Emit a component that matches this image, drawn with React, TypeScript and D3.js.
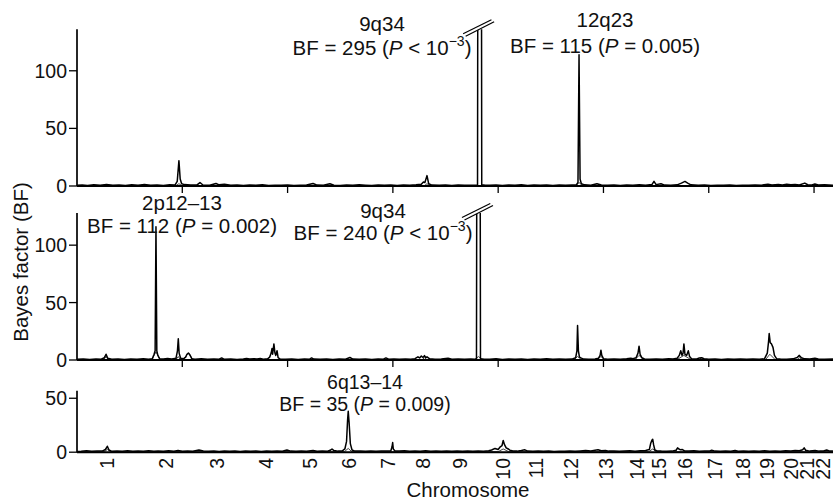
import React from 'react';
import * as d3 from 'd3';

const W = 833;
const H = 500;
const FONT = "'Liberation Sans', Arial, Helvetica, sans-serif";

// ---------- data ----------
const chromosomes = ['1','2','3','4','5','6','7','8','9','10','11','12','13','14','15','16','17','18','19','20','21','22'];
const chromosomeCentersCM = [142, 421, 663, 896, 1106, 1292, 1475, 1643, 1819, 2023, 2180, 2344, 2511, 2658, 2765, 2887, 3030, 3161, 3275, 3389, 3465, 3544];
const genomeTicksCM = [500, 1000, 1500, 2000, 2500, 3000, 3500];
const yTicksTop = [0, 50, 100];
const yTicksMid = [0, 50, 100];
const yTicksBottom = [0, 50];

type P = [number, number];

const topBF: P[] = [
  [0,0.6],[25,0.9],[50,0.5],[80,1.1],[110,0.7],[140,1.3],[170,0.6],[200,0.9],[230,0.5],[260,1.0],[290,0.7],[320,1.4],[350,0.6],[380,0.8],[410,0.5],[440,1.0],[465,0.8],[476,4],[484,22],[490,6],[497,2],[510,1.2],[540,0.8],[570,1.0],[584,3],[598,0.9],[630,0.7],[660,2.2],[675,1.0],[700,1.6],[730,0.6],[760,0.9],[790,0.5],[820,0.8],[850,0.6],[880,1.0],[910,0.5],[940,0.7],[970,0.6],[1000,0.9],[1030,0.5],[1060,0.7],[1090,0.9],[1121,2.2],[1140,0.8],[1170,0.6],[1201,2.0],[1220,0.7],[1250,0.5],[1280,0.8],[1310,0.6],[1340,1.0],[1370,0.7],[1400,0.5],[1430,0.8],[1460,0.6],[1490,0.9],[1520,0.5],[1550,0.8],[1580,0.6],[1610,1.0],[1635,1.5],[1645,3.5],[1652,3],[1662,9],[1670,2],[1685,0.8],[1720,0.6],[1750,0.9],[1780,0.5],[1810,0.8],[1840,0.6],[1870,0.7],[1895,0.6],[1902,1],[1904,295],[1920,295],[1922,1],[1935,0.8],[1960,0.6],[1990,0.9],[2020,0.5],[2050,0.8],[2080,0.6],[2110,1.0],[2140,0.5],[2170,0.8],[2200,0.6],[2230,0.9],[2260,0.5],[2290,0.8],[2320,0.6],[2350,0.9],[2370,0.8],[2379,3],[2384,114],[2389,6],[2395,2],[2410,1],[2440,0.7],[2469,2],[2490,0.8],[2520,0.6],[2550,0.9],[2580,0.5],[2610,0.8],[2640,0.6],[2670,1.0],[2700,0.7],[2730,1.2],[2740,4],[2750,1.2],[2773,2],[2790,0.8],[2820,0.7],[2850,1],[2870,2.5],[2887,4],[2900,2.5],[2915,1],[2950,0.6],[2980,0.8],[3010,0.5],[3040,0.7],[3070,0.6],[3100,0.8],[3130,0.5],[3160,0.7],[3190,0.6],[3220,0.9],[3250,0.7],[3281,1.6],[3300,0.9],[3330,1.2],[3350,0.8],[3370,1.5],[3390,1.0],[3410,1.4],[3430,0.9],[3456,2.5],[3470,1.1],[3490,0.9],[3504,1.8],[3520,0.8],[3550,1.0],[3590,0.7]
];
const topBF2: P[] = [
  [0,0.3],[470,0.3],[484,2],[498,0.3],[1650,0.3],[1662,2],[1675,0.3],[2370,0.3],[2384,3],[2400,0.3],[3590,0.3]
];

const midBF: P[] = [
  [0,0.6],[30,0.9],[60,0.5],[90,0.8],[115,0.7],[130,2],[138,5],[146,1.5],[165,0.6],[195,0.9],[225,0.5],[255,0.8],[285,0.6],[315,1.0],[340,0.7],[358,1.2],[366,5],[371,8],[375,116],[379,8],[384,4],[392,1.2],[410,0.9],[430,1.4],[450,0.8],[470,1.5],[477,8],[481,18.5],[485,6],[492,1.5],[505,1],[516,2.5],[522,5],[529,6],[536,4.5],[545,1.2],[560,0.7],[590,1.0],[620,0.6],[650,0.8],[675,0.7],[687,1.8],[700,0.6],[730,0.8],[760,0.5],[790,0.9],[805,1.4],[820,0.8],[840,1.2],[855,0.9],[870,1.3],[885,0.7],[905,1.0],[915,2.5],[922,6],[926,10],[929,5],[935,14],[940,6],[944,4],[950,8],[955,2],[965,0.8],[990,0.6],[1020,0.9],[1050,0.5],[1080,0.8],[1105,0.7],[1114,1.8],[1125,0.8],[1155,0.6],[1185,0.9],[1215,0.5],[1245,0.8],[1275,0.6],[1296,2.2],[1310,0.8],[1340,0.6],[1370,0.9],[1400,0.5],[1430,0.8],[1455,0.7],[1467,1.8],[1480,0.7],[1505,0.9],[1530,0.6],[1560,0.8],[1585,0.7],[1605,1.2],[1619,2.8],[1627,1.8],[1635,3.5],[1643,2.2],[1650,3.8],[1657,2.0],[1662,2.8],[1675,1.0],[1700,0.7],[1730,0.9],[1762,1.6],[1780,0.7],[1810,0.9],[1840,0.6],[1870,0.8],[1890,0.7],[1897,1],[1899,240],[1914,240],[1916,1],[1930,0.8],[1960,0.6],[1990,1.0],[2020,0.5],[2050,0.8],[2080,0.6],[2110,0.9],[2140,0.5],[2170,0.8],[2200,0.6],[2230,1.0],[2260,0.7],[2290,0.9],[2320,0.6],[2350,0.8],[2368,2],[2374,8],[2377,30],[2381,8],[2386,2.5],[2393,1.8],[2405,0.8],[2430,0.7],[2460,0.9],[2476,1.5],[2484,4],[2488,8.5],[2492,4],[2500,1.2],[2520,0.7],[2550,0.9],[2580,0.6],[2610,1.0],[2630,1.5],[2640,1.2],[2655,2],[2664,6],[2669,12],[2674,5],[2682,2],[2695,0.9],[2720,0.7],[2750,0.9],[2780,0.6],[2810,1.2],[2830,0.8],[2850,1.5],[2860,4],[2867,8],[2873,4],[2878,6],[2882,14],[2887,5],[2895,4],[2903,8],[2909,3],[2918,1],[2940,0.8],[2955,1.8],[2966,2],[2978,1.2],[3000,0.6],[3030,0.9],[3060,0.5],[3090,0.8],[3120,0.6],[3150,0.9],[3180,0.6],[3210,0.8],[3240,0.7],[3265,1.2],[3278,6],[3284,16],[3287,23],[3292,15],[3298,14],[3305,11],[3312,4],[3322,1.2],[3340,0.8],[3370,0.7],[3400,1.0],[3420,2.2],[3430,4],[3440,2],[3455,1.0],[3480,0.8],[3504,1.6],[3520,0.8],[3550,0.6],[3590,0.8]
];
const midBF2: P[] = [
  [0,0.3],[120,0.4],[130,1],[138,3],[148,0.4],[355,0.4],[375,7],[395,0.4],[470,0.4],[481,3],[490,0.4],[505,0.4],[529,6],[550,0.4],[680,0.4],[687,1.2],[695,0.4],[1640,0.4],[1650,2],[1660,0.4],[1890,0.4],[1906,3],[1925,0.4],[2360,0.4],[2377,3],[2395,0.4],[2470,0.4],[2488,3],[2505,0.4],[2650,0.4],[2669,4],[2690,0.4],[2850,0.4],[2882,4],[2915,0.4],[2955,0.4],[2966,2],[2980,0.4],[3270,0.4],[3290,5],[3315,0.4],[3420,0.4],[3430,2],[3445,0.4],[3590,0.3]
];

const lowBF: P[] = [
  [0,0.6],[20,0.9],[45,1.4],[70,0.8],[95,1.2],[120,1.0],[135,2.5],[144,5.5],[152,2.0],[165,0.8],[190,1.2],[215,0.9],[240,1.3],[265,0.8],[290,1.1],[315,0.9],[340,1.4],[365,0.8],[385,1.2],[410,0.9],[435,1.3],[460,0.8],[480,1.6],[500,0.9],[525,1.2],[550,0.8],[579,2.0],[600,1.1],[625,0.8],[650,1.2],[675,0.7],[700,1.1],[725,0.8],[750,1.2],[775,0.7],[800,1.0],[825,0.8],[850,1.2],[875,0.7],[900,1.0],[925,0.8],[950,1.1],[975,0.9],[997,2.0],[1015,1.0],[1040,0.8],[1065,1.2],[1090,0.9],[1121,1.6],[1140,0.8],[1165,1.1],[1190,0.9],[1205,2],[1211,3],[1220,1.5],[1240,1.0],[1260,1.2],[1272,3],[1280,10],[1285,30],[1288,38],[1292,28],[1298,8],[1306,2],[1320,1.0],[1345,1.2],[1370,0.8],[1395,1.1],[1420,0.9],[1445,1.2],[1470,1.0],[1490,1.2],[1496,5],[1499,9],[1502,3],[1510,1.2],[1530,1.0],[1555,1.3],[1580,0.8],[1605,1.1],[1630,0.9],[1655,1.4],[1680,0.8],[1705,1.2],[1730,0.9],[1755,1.1],[1780,0.8],[1805,1.2],[1830,0.9],[1855,1.1],[1880,0.8],[1905,1.2],[1930,0.9],[1955,1.3],[1969,2],[1985,3.5],[2000,2.5],[2010,5],[2018,6],[2024,10.8],[2030,7],[2038,4],[2048,3],[2056,1.8],[2070,1.2],[2090,1.0],[2110,1.5],[2127,2.2],[2140,1.0],[2165,0.8],[2190,1.1],[2215,0.8],[2240,1.0],[2265,0.7],[2290,0.9],[2315,0.8],[2340,1.1],[2365,0.8],[2390,1.2],[2415,1.6],[2440,1.1],[2460,1.8],[2474,2.2],[2490,1.3],[2510,1.5],[2525,1.0],[2550,1.2],[2575,0.8],[2600,1.0],[2625,1.3],[2650,0.9],[2675,1.4],[2700,1.6],[2718,2.5],[2724,8],[2730,11],[2734,12],[2738,7],[2744,2],[2755,1.2],[2775,1.0],[2800,0.9],[2825,1.0],[2845,1.8],[2852,4],[2858,3],[2866,2.2],[2875,2.5],[2885,1.2],[2905,1.0],[2930,1.4],[2955,0.9],[2980,1.1],[3005,1.2],[3014,1.8],[3030,1.0],[3055,0.8],[3080,1.1],[3105,0.9],[3125,1.5],[3140,0.9],[3165,1.1],[3190,0.8],[3215,1.0],[3240,0.9],[3265,1.3],[3290,0.8],[3315,1.1],[3340,0.9],[3365,1.4],[3390,1.2],[3410,1.6],[3430,1.3],[3446,2.2],[3453,4],[3460,1.8],[3480,1.0],[3505,1.5],[3525,1.0],[3545,1.2],[3560,2],[3575,1.0],[3590,1.2]
];
const lowBF2: P[] = [
  [0,0.4],[130,0.5],[144,2.5],[160,0.5],[1270,0.5],[1288,3.5],[1305,0.5],[2000,0.5],[2024,3],[2050,0.5],[2715,0.5],[2734,3],[2750,0.5],[3590,0.4]
];

// ---------- layout ----------
const X0 = 77;
const x = d3.scaleLinear().domain([0, 3590]).range([X0, 833]);

type Panel = {
  id: string;
  main: P[];
  second: P[];
  y: d3.ScaleLinear<number, number>;
  yTicks: number[];
  genomeTicks: boolean;
  breakCM?: number;
};

const panels: Panel[] = [
  { id: 'top', main: topBF, second: topBF2, y: d3.scaleLinear().domain([0, 136]).range([186, 29.3]), yTicks: yTicksTop, genomeTicks: true, breakCM: 1912 },
  { id: 'mid', main: midBF, second: midBF2, y: d3.scaleLinear().domain([0, 128]).range([360, 213]), yTicks: yTicksMid, genomeTicks: true, breakCM: 1906.5 },
  { id: 'low', main: lowBF, second: lowBF2, y: d3.scaleLinear().domain([0, 57]).range([452.2, 390.7]), yTicks: yTicksBottom, genomeTicks: false },
];

const TICK_FS = 19.5;
const ANN_FS = 20.5;

function PanelView({ p }: { p: Panel }) {
  const yTop = p.y.range()[1];
  const y0 = p.y(0);
  const line = d3.line<P>().x(d => x(d[0])).y(d => p.y(d[1]));
  const clipId = `clip-${p.id}`;
  return (
    <g>
      <defs>
        <clipPath id={clipId}>
          <rect x={X0} y={yTop} width={833 - X0} height={y0 - yTop + 4} />
        </clipPath>
      </defs>
      <g clipPath={`url(#${clipId})`}>
        <path d={line(p.second) || ''} fill="none" stroke="#444" strokeWidth={1} />
        <path d={line(p.main) || ''} fill="none" stroke="#000" strokeWidth={1.5} strokeLinejoin="round" />
      </g>
      <line x1={X0} x2={X0} y1={yTop} y2={y0} stroke="#000" strokeWidth={1.7} />
      {p.yTicks.map(t => (
        <g key={t}>
          <line x1={X0 - 8} x2={X0} y1={p.y(t)} y2={p.y(t)} stroke="#000" strokeWidth={1.3} />
          <text x={X0 - 10} y={p.y(t)} dy="0.36em" textAnchor="end" fontSize={TICK_FS} fontFamily={FONT} fill="#111">{t}</text>
        </g>
      ))}
      <line x1={X0} x2={833} y1={y0} y2={y0} stroke="#000" strokeWidth={1.9} />
      {p.genomeTicks && genomeTicksCM.map(t => (
        <line key={t} x1={x(t)} x2={x(t)} y1={y0} y2={y0 + 7} stroke="#000" strokeWidth={1.3} />
      ))}
      {p.breakCM !== undefined && (
        <g transform={`translate(${x(p.breakCM)},${yTop})`}>
          <polygon points="-16.5,4.5 11.8,-9.5 14.5,-7.5 -14,7" fill="#fff" />
          <line x1={-16.5} y1={4.5} x2={11.8} y2={-9.5} stroke="#000" strokeWidth={1.2} />
          <line x1={-14} y1={7} x2={14.5} y2={-7.5} stroke="#000" strokeWidth={1.2} />
        </g>
      )}
    </g>
  );
}

function Ann({ cx, y1, y2, title, bf, rel, pval, sup, fs = ANN_FS }: { cx: number; y1: number; y2: number; title: string; bf: string; rel: string; pval: string; sup?: string; fs?: number }) {
  return (
    <g fontFamily={FONT} fontSize={fs} fill="#111">
      <text x={cx} y={y1} textAnchor="middle">{title}</text>
      <text x={cx} y={y2} textAnchor="middle">
        {`BF = ${bf} (`}
        <tspan fontStyle="italic">P</tspan>
        {` ${rel} ${pval}`}
        {sup ? (
          <>
            <tspan dy={-9} fontSize={14}>{sup}</tspan>
            <tspan dy={9}>)</tspan>
          </>
        ) : (
          <tspan>)</tspan>
        )}
      </text>
    </g>
  );
}

export default function App() {
  return (
    <svg width={W} height={H} style={{ position: 'absolute', left: 0, top: 0, display: 'block', background: '#fff' }}>
      <rect x={0} y={0} width={W} height={H} fill="#fff" />
      {panels.map(p => <PanelView key={p.id} p={p} />)}

      <Ann cx={382} y1={31} y2={55} title="9q34" bf="295" rel="<" pval="10" sup="−3" />
      <Ann cx={605} y1={27} y2={53} title="12q23" bf="115" rel="=" pval="0.005" />
      <Ann cx={182} y1={210} y2={232.7} title="2p12–13" bf="112" rel="=" pval="0.002" />
      <Ann cx={383} y1={217.5} y2={240} title="9q34" bf="240" rel="<" pval="10" sup="−3" />
      <Ann cx={365} y1={388.5} y2={410.7} title="6q13–14" bf="35" rel="=" pval="0.009" fs={19.5} />

      {chromosomes.map((c, i) => (
        <text key={c} transform={`translate(${x(chromosomeCentersCM[i])},458) rotate(-90)`} dy="0.36em" textAnchor="end" fontSize={TICK_FS} fontFamily={FONT} fill="#111">{c}</text>
      ))}

      <text transform="translate(28,262) rotate(-90)" textAnchor="middle" fontSize={ANN_FS} fontFamily={FONT} fill="#111">Bayes factor (BF)</text>
      <text x={468} y={497} textAnchor="middle" fontSize={ANN_FS} fontFamily={FONT} fill="#111">Chromosome</text>
    </svg>
  );
}
